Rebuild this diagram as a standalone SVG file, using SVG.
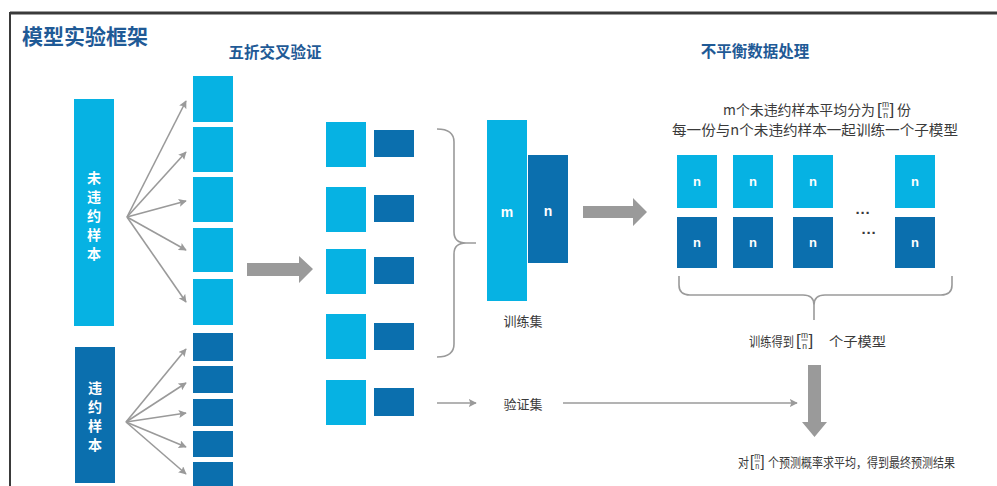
<svg xmlns="http://www.w3.org/2000/svg" width="997" height="486" viewBox="0 0 997 486">
<defs>
<style>
.lb{fill:#06b2e3}
.db{fill:#0b6fae}
.t{font-family:"Noto Sans CJK SC","Liberation Sans",sans-serif;dominant-baseline:central}
.s{font-family:"Liberation Sans",sans-serif;dominant-baseline:central}
.h{font-weight:bold;fill:#1f5a96}
.w{fill:#fff;font-weight:bold}
.g{fill:#3a3a3a}
.ln{stroke:#9a9a9a;stroke-width:1.6;fill:none}
.big{fill:#9a9a9a}
</style>
<marker id="ah" viewBox="0 0 10 10" refX="9" refY="5" markerWidth="8" markerHeight="8" orient="auto" markerUnits="userSpaceOnUse">
<path d="M0,0 L10,5 L0,10 L2,5 z" fill="#9a9a9a"/>
</marker>
<marker id="ah2" viewBox="0 0 10 10" refX="9" refY="5" markerWidth="8" markerHeight="8" orient="auto" markerUnits="userSpaceOnUse">
<path d="M0,0 L10,5 L0,10 L2,5 z" fill="#9a9a9a"/>
</marker>
<g id="frac">
<text class="s g" x="0" y="0" font-size="17">[</text>
<text class="s g" x="8.5" y="-5" font-size="8.5" text-anchor="middle">m</text>
<line x1="5.5" y1="0" x2="11.5" y2="0" stroke="#3a3a3a" stroke-width="0.8"/>
<text class="s g" x="8.5" y="5.5" font-size="8.5" text-anchor="middle">n</text>
<text class="s g" x="12.5" y="0" font-size="17">]</text>
</g>
</defs>
<rect width="997" height="486" fill="#fff"/>
<!-- frame -->
<line x1="10" y1="13" x2="997" y2="13" stroke="#3a3a3a" stroke-width="3"/>
<line x1="10" y1="12" x2="10" y2="486" stroke="#3a3a3a" stroke-width="2"/>

<text class="t h" x="22" y="35" font-size="21">模型实验框架</text>
<text class="t h" x="275" y="51" font-size="15.5" text-anchor="middle">五折交叉验证</text>
<text class="t h" x="755" y="50" font-size="15.5" text-anchor="middle">不平衡数据处理</text>

<!-- left source bars -->
<g id="unviolated">
<rect class="lb" x="74" y="99" width="40" height="227"/>
<text class="t w" font-size="14" text-anchor="middle"><tspan x="94" y="177">未</tspan><tspan x="94" y="196">违</tspan><tspan x="94" y="215">约</tspan><tspan x="94" y="234">样</tspan><tspan x="94" y="253">本</tspan></text>
</g>
<g id="violated">
<rect class="db" x="75" y="347" width="40" height="136"/>
<text class="t w" font-size="14" text-anchor="middle"><tspan x="95" y="387">违</tspan><tspan x="95" y="406">约</tspan><tspan x="95" y="425">样</tspan><tspan x="95" y="444">本</tspan></text>
</g>

<!-- split folds -->
<g id="folds-unviolated">
<rect class="lb" x="193" y="76" width="40" height="46"/>
<rect class="lb" x="193" y="127" width="40" height="45"/>
<rect class="lb" x="193" y="177" width="40" height="45"/>
<rect class="lb" x="193" y="228" width="40" height="44"/>
<rect class="lb" x="193" y="279" width="40" height="46"/>
</g>
<g id="folds-violated">
<rect class="db" x="193" y="333" width="40" height="28"/>
<rect class="db" x="193" y="366" width="40" height="27"/>
<rect class="db" x="193" y="399" width="40" height="27"/>
<rect class="db" x="193" y="431" width="40" height="26"/>
<rect class="db" x="193" y="462" width="40" height="26"/>
</g>

<!-- fold pairs -->
<g id="pairs">
<rect class="lb" x="326" y="122" width="40" height="45"/><rect class="db" x="374" y="130" width="40" height="27"/>
<rect class="lb" x="326" y="187" width="40" height="45"/><rect class="db" x="374" y="195" width="40" height="27"/>
<rect class="lb" x="326" y="249" width="40" height="45"/><rect class="db" x="374" y="257" width="40" height="27"/>
<rect class="lb" x="326" y="314" width="40" height="45"/><rect class="db" x="374" y="323" width="40" height="27"/>
<rect class="lb" x="326" y="380" width="40" height="45"/><rect class="db" x="374" y="388" width="40" height="28"/>
</g>

<!-- training set -->
<g id="trainset">
<rect class="lb" x="487" y="120" width="40" height="181"/>
<rect class="db" x="528" y="155" width="40" height="108"/>
<text class="s w" x="507" y="212" font-size="14" text-anchor="middle">m</text>
<text class="s w" x="548" y="211" font-size="14" text-anchor="middle">n</text>
<text class="t g" x="523" y="320" font-size="13" text-anchor="middle">训练集</text>
</g>
<g id="valset">
<text class="t g" x="523" y="403" font-size="13" text-anchor="middle">验证集</text>
</g>

<!-- sub models grid -->
<g id="submodels">
<rect class="lb" x="677" y="155" width="40" height="53"/><rect class="db" x="677" y="217" width="40" height="51"/>
<rect class="lb" x="733" y="155" width="40" height="53"/><rect class="db" x="733" y="217" width="40" height="51"/>
<rect class="lb" x="793" y="155" width="40" height="53"/><rect class="db" x="793" y="217" width="40" height="51"/>
<rect class="lb" x="895" y="155" width="40" height="53"/><rect class="db" x="895" y="217" width="40" height="51"/>
<g class="s w" font-size="13" text-anchor="middle">
<text x="697" y="181">n</text><text x="753" y="181">n</text><text x="813" y="181">n</text><text x="915" y="181">n</text>
<text x="697" y="242">n</text><text x="753" y="242">n</text><text x="813" y="242">n</text><text x="915" y="242">n</text>
</g>
<text class="s g" x="863" y="212" font-size="15" font-weight="bold" text-anchor="middle">···</text>
<text class="s g" x="869" y="232" font-size="15" font-weight="bold" text-anchor="middle">···</text>
</g>

<!-- right texts -->
<g id="desc">
<text class="t g" x="723" y="109" font-size="14" textLength="152" lengthAdjust="spacingAndGlyphs">m个未违约样本平均分为</text>
<use href="#frac" x="877" y="109"/>
<text class="t g" x="897" y="109" font-size="14">份</text>
<text class="t g" x="672" y="129" font-size="14" textLength="286" lengthAdjust="spacingAndGlyphs">每一份与n个未违约样本一起训练一个子模型</text>
</g>
<g id="submodel-label">
<text class="t g" x="749" y="340" font-size="13" textLength="45" lengthAdjust="spacingAndGlyphs">训练得到</text>
<use href="#frac" x="796" y="340"/>
<text class="t g" x="829" y="340" font-size="13" textLength="57" lengthAdjust="spacingAndGlyphs">个子模型</text>
</g>
<g id="result">
<text class="t g" x="738" y="461" font-size="13" textLength="11" lengthAdjust="spacingAndGlyphs">对</text>
<use href="#frac" transform="translate(750,461) scale(0.85,1)"/>
<text class="t g" x="768" y="461" font-size="13" textLength="187" lengthAdjust="spacingAndGlyphs">个预测概率求平均，得到最终预测结果</text>
</g>

<!-- connectors -->
<g id="connectors">
<g class="ln" marker-end="url(#ah)">
<line x1="127" y1="217" x2="186" y2="101"/>
<line x1="127" y1="217" x2="186" y2="152"/>
<line x1="127" y1="217" x2="186" y2="201"/>
<line x1="127" y1="217" x2="186" y2="250"/>
<line x1="127" y1="217" x2="186" y2="302"/>
<line x1="126" y1="422" x2="186" y2="349"/>
<line x1="126" y1="422" x2="186" y2="383"/>
<line x1="126" y1="422" x2="186" y2="413"/>
<line x1="126" y1="422" x2="186" y2="447"/>
<line x1="126" y1="422" x2="186" y2="474"/>
<line x1="437" y1="403" x2="476" y2="403"/>
</g>
<line class="ln" x1="563" y1="403" x2="797" y2="403" marker-end="url(#ah2)"/>
<path class="ln" d="M437,129 Q454,129 454,142 L454,232 Q454,243 466,243 L476,243 M466,243 Q454,243 454,254 L454,344 Q454,357 437,357"/>
<path class="ln" d="M679,276 L679,285 Q679,295 690,295 L803,295 Q814,295 814,305 L814,320 M814,305 Q814,295 825,295 L941,295 Q952,295 952,285 L952,276"/>
<path class="big" d="M247,263 L299,263 L299,256 L313,269 L299,283 L299,276 L247,276 z"/>
<path class="big" d="M583,206 L633,206 L633,198 L647,212 L633,226 L633,218 L583,218 z"/>
<path class="big" d="M808,365 L821,365 L821,422 L827,422 L814.5,437 L802,422 L808,422 z"/>
</g>
</svg>
